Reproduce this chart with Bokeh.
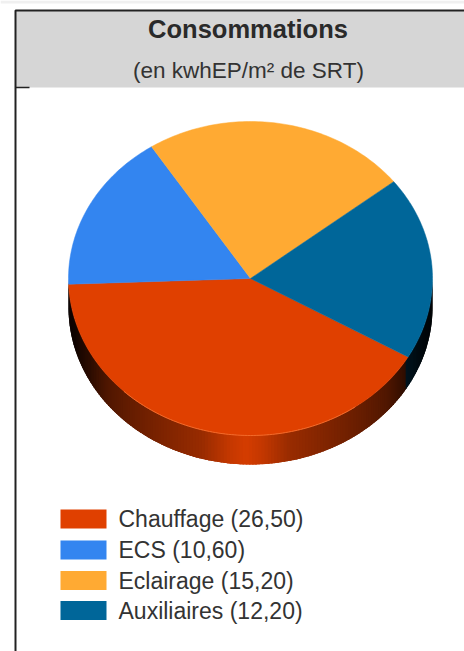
import math
from bokeh.core.properties import value
from bokeh.embed import file_html
from bokeh.plotting import figure
from bokeh.resources import INLINE

# Chart content
title = "Consommations"
subtitle = "(en kwhEP/m² de SRT)"
categories = ["Chauffage", "ECS", "Eclairage", "Auxiliaires"]
values = [26.50, 10.60, 15.20, 12.20]
slice_colors = ["#E04000", "#3385F0", "#FFAA33", "#006699"]

# Pie geometry in page pixels (tilted disc seen from above)
CX, CY, RX, RY, DEPTH = 250, 278, 182, 157, 29
START_ANGLE = 30

FONT = value("Liberation Sans")
WIDTH, HEIGHT = 464, 651

p = figure(width=WIDTH, height=HEIGHT, x_range=(0, WIDTH), y_range=(HEIGHT, 0),
           output_backend="svg", toolbar_location=None, min_border=0,
           background_fill_color="white", border_fill_color="white")
p.axis.visible = False
p.grid.visible = False
p.outline_line_color = None


def ellipse_point(deg, drop=0):
    a = math.radians(deg)
    return CX + RX * math.cos(a), CY + RY * math.sin(a) + drop


def shade(dist):
    """Brightness of the disc's side wall, by angular distance from its front."""
    stops = [(0, 0.95), (5, 0.88), (14, 0.68), (30, 0.54), (50, 0.36), (60, 0.2), (72, 0.08), (90, 0.03)]
    for (d0, s0), (d1, s1) in zip(stops, stops[1:]):
        if dist <= d1:
            return s0 + (s1 - s0) * (dist - d0) / (d1 - d0)
    return stops[-1][1]


def darken(hex_color, k):
    r, g, b = (int(hex_color[i:i + 2], 16) for i in (1, 3, 5))
    return f"#{int(r * k):02x}{int(g * k):02x}{int(b * k):02x}"


# Slice boundaries, clockwise on screen
total = sum(values)
spans = []
angle = START_ANGLE
for v in values:
    sweep = 360 * v / total
    spans.append((angle, angle + sweep))
    angle += sweep

# Side wall: overlapping shaded strips along the visible lower half of the disc
wall_x, wall_y, wall_c = [], [], []
for (a0, a1), color in zip(spans, slice_colors):
    for base in (0, 360):
        lo, hi = max(a0, base), min(a1, base + 180)
        a = lo
        while a < hi:
            b = min(a + 1, hi)
            end = min(b + 1.5, base + 180)
            x0, y0 = ellipse_point(a)
            x1, y1 = ellipse_point(end)
            x2, y2 = ellipse_point(end, DEPTH)
            x3, y3 = ellipse_point(a, DEPTH)
            wall_x.append([x0, x1, x2, x3])
            wall_y.append([y0, y1, y2, y3])
            wall_c.append(darken(color, shade(abs((a + b) / 2 - base - 90))))
            a = b
order = sorted(range(len(wall_x)), key=lambda i: wall_x[i][0])
p.patches([wall_x[i] for i in order], [wall_y[i] for i in order],
          fill_color=[wall_c[i] for i in order], line_color=None)

# Top face
for (a0, a1), color in zip(spans, slice_colors):
    n = max(2, int(a1 - a0))
    pts = [ellipse_point(a0 + (a1 - a0) * i / n) for i in range(n + 1)]
    p.patch([CX] + [q[0] for q in pts], [CY] + [q[1] for q in pts],
            fill_color=color, line_color=color, line_width=0.5)

# Lighter rim where the front of the top face meets the wall
rim = [ellipse_point(a) for a in range(55, 135)]
p.line([q[0] for q in rim], [q[1] for q in rim], line_color="#F26A2A", line_width=1)

# Header band and frame
p.quad(left=15, right=WIDTH, top=10, bottom=87, fill_color="#D6D6D6", line_color=None)
p.quad(left=0, right=WIDTH, top=0, bottom=3, fill_color="#F0F0F0", line_color=None)
p.line([WIDTH, 15, 15], [10, 10, HEIGHT], line_color="#222222", line_width=2)
p.line([15, 29], [87, 87], line_color="#222222", line_width=1.5)

p.text([247.5], [28], text=[title], text_font=FONT, text_font_size="25.5px",
       text_align="center", text_baseline="middle", text_color="#2A2A2A",
       text_font_style="bold")
p.text([248], [70], text=[subtitle], text_font=FONT, text_font_size="22.5px",
       text_align="center", text_baseline="middle", text_color="#333333")

# Legend
ROW_Y = [518.5, 549.5, 580, 610]
p.quad(left=[60] * 4, right=[106] * 4,
       top=[y - 9.5 for y in ROW_Y], bottom=[y + 9.5 for y in ROW_Y],
       fill_color=slice_colors, line_color=None)
labels = [f"{c} ({v:.2f})".replace(".", ",") for c, v in zip(categories, values)]
p.text([118] * 4, ROW_Y, text=labels, text_font=FONT, text_font_size="23px",
       text_align="left", text_baseline="middle", text_color="#333333")

open("out.html", "w").write(file_html(p, INLINE))
